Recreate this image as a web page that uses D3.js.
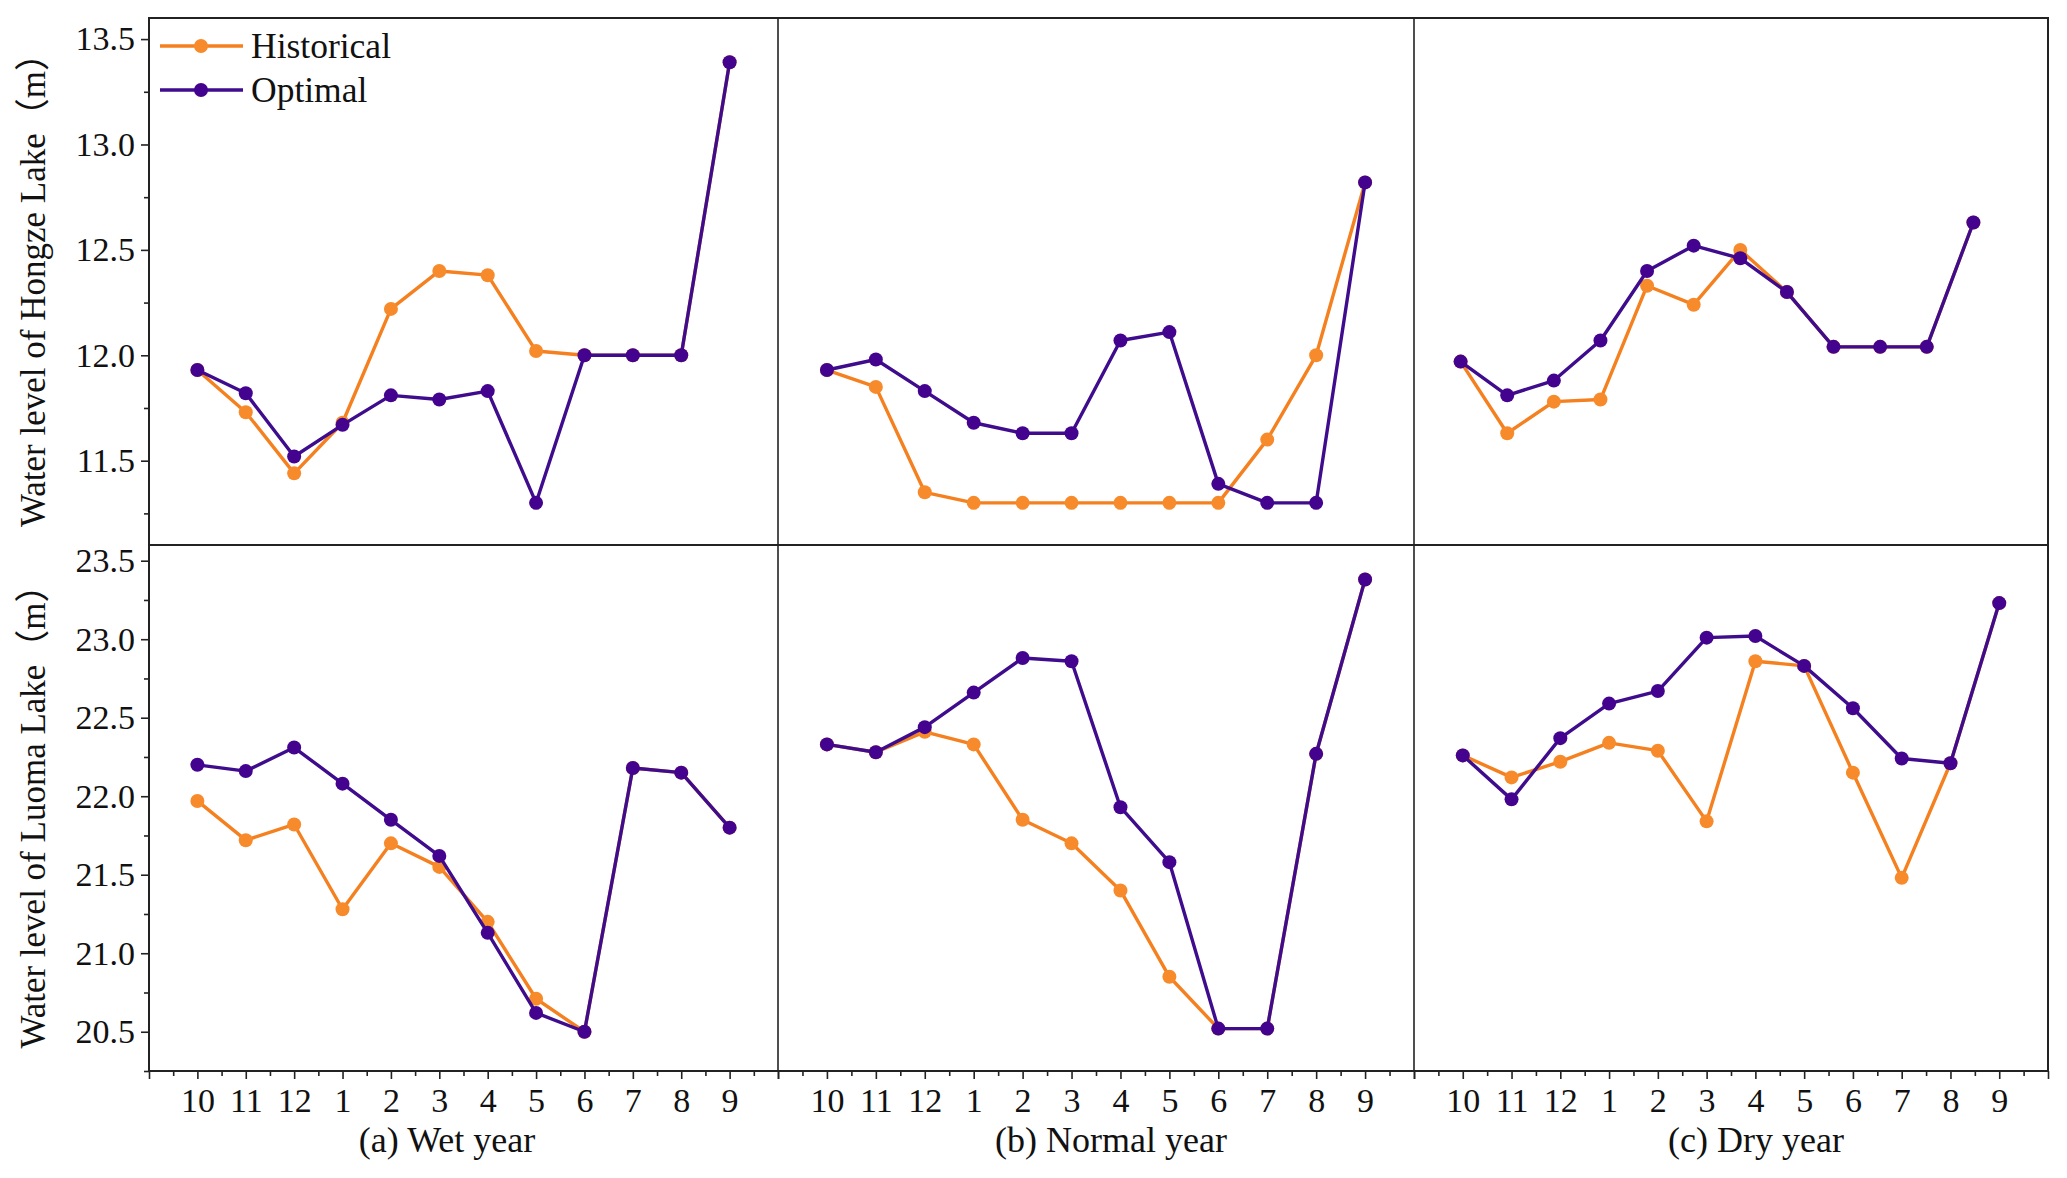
<!DOCTYPE html>
<html>
<head>
<meta charset="utf-8">
<script src="https://cdn.jsdelivr.net/npm/d3@7"></script>
<style>
  html, body { margin: 0; padding: 0; background: #fff; }
  svg { display: block; }
  text { font-family: "Liberation Serif", "Times New Roman", "Noto Sans CJK SC", serif; fill: #111; }
</style>
</head>
<body>
<svg id="chart" width="2067" height="1178"></svg>
<script>
// ---------------- DATA ----------------
const months = ["10", "11", "12", "1", "2", "3", "4", "5", "6", "7", "8", "9"];
const seriesNames = ["Historical", "Optimal"];
const yearTitles = ["(a) Wet year", "(b) Normal year", "(c) Dry year"];
const rowTitles = ["Water level of Hongze Lake\uFF08m\uFF09", "Water level of Luoma Lake\uFF08m\uFF09"];

const hongzeTicks = [11.5, 12.0, 12.5, 13.0, 13.5];
const luomaTicks = [20.5, 21.0, 21.5, 22.0, 22.5, 23.0, 23.5];

// Hongze Lake (top row)
const hongzeWetHistorical    = [11.93, 11.73, 11.44, 11.68, 12.22, 12.40, 12.38, 12.02, 12.00, 12.00, 12.00, 13.39];
const hongzeWetOptimal       = [11.93, 11.82, 11.52, 11.67, 11.81, 11.79, 11.83, 11.30, 12.00, 12.00, 12.00, 13.39];
const hongzeNormalHistorical = [11.93, 11.85, 11.35, 11.30, 11.30, 11.30, 11.30, 11.30, 11.30, 11.60, 12.00, 12.82];
const hongzeNormalOptimal    = [11.93, 11.98, 11.83, 11.68, 11.63, 11.63, 12.07, 12.11, 11.39, 11.30, 11.30, 12.82];
const hongzeDryHistorical    = [11.97, 11.63, 11.78, 11.79, 12.33, 12.24, 12.50, 12.30, 12.04, 12.04, 12.04, 12.63];
const hongzeDryOptimal       = [11.97, 11.81, 11.88, 12.07, 12.40, 12.52, 12.46, 12.30, 12.04, 12.04, 12.04, 12.63];

// Luoma Lake (bottom row)
const luomaWetHistorical    = [21.97, 21.72, 21.82, 21.28, 21.70, 21.55, 21.20, 20.71, 20.50, 22.18, 22.15, 21.80];
const luomaWetOptimal       = [22.20, 22.16, 22.31, 22.08, 21.85, 21.62, 21.13, 20.62, 20.50, 22.18, 22.15, 21.80];
const luomaNormalHistorical = [22.33, 22.28, 22.41, 22.33, 21.85, 21.70, 21.40, 20.85, 20.52, 20.52, 22.27, 23.38];
const luomaNormalOptimal    = [22.33, 22.28, 22.44, 22.66, 22.88, 22.86, 21.93, 21.58, 20.52, 20.52, 22.27, 23.38];
const luomaDryHistorical    = [22.26, 22.12, 22.22, 22.34, 22.29, 21.84, 22.86, 22.83, 22.15, 21.48, 22.21, 23.23];
const luomaDryOptimal       = [22.26, 21.98, 22.37, 22.59, 22.67, 23.01, 23.02, 22.83, 22.56, 22.24, 22.21, 23.23];

// ---------------- LAYOUT ----------------
const svg = d3.select("#chart");
const colX = [149, 778, 1414, 2048];
const rowY = [18, 545, 1071];
const yDomains = [[11.1, 13.6], [20.25, 23.6]];
const yTickSets = [hongzeTicks, luomaTicks];
const titleX = [447, 1111, 1756];
const tickFont = 34;
const titleFont = 36;
const rowTitleFont = 35;
const legendFont = 35.5;
const serif = '"Liberation Serif", "Times New Roman", serif';
const colors = {
  Historical: { line: "#F5801F", fill: "#F78B2C" },
  Optimal:    { line: "#3E0C8D", fill: "#44038F" }
};

const grid = [
  [[hongzeWetHistorical, hongzeWetOptimal], [hongzeNormalHistorical, hongzeNormalOptimal], [hongzeDryHistorical, hongzeDryOptimal]],
  [[luomaWetHistorical, luomaWetOptimal], [luomaNormalHistorical, luomaNormalOptimal], [luomaDryHistorical, luomaDryOptimal]]
];

// the top-right panel of the original has its points plotted on a slightly narrower x span
const dataRightOverride = { "0-2": 2020 };

for (let r = 0; r < 2; r++) {
  const y = d3.scaleLinear().domain(yDomains[r]).range([rowY[r + 1], rowY[r]]);
  for (let c = 0; c < 3; c++) {
    const xAxisScale = d3.scaleLinear().domain([-1, 12]).range([colX[c], colX[c + 1]]);
    const right = dataRightOverride[r + "-" + c] || colX[c + 1];
    const x = d3.scaleLinear().domain([-1, 12]).range([colX[c], right]);
    const g = svg.append("g");
    grid[r][c].forEach((vals, si) => {
      const name = seriesNames[si];
      const line = d3.line().x((d, i) => x(i)).y(d => y(d));
      g.append("path").datum(vals)
        .attr("d", line)
        .attr("fill", "none")
        .attr("stroke", colors[name].line)
        .attr("stroke-width", 3.4)
        .attr("stroke-linejoin", "round");
      g.selectAll(null).data(vals).enter().append("circle")
        .attr("cx", (d, i) => x(i))
        .attr("cy", d => y(d))
        .attr("r", 7)
        .attr("fill", colors[name].fill);
    });

    if (r === 1) {
      const major = d3.range(-1, 13);
      const minor = d3.range(-0.5, 12, 1);
      svg.append("g").attr("transform", `translate(0,${rowY[2]})`)
        .call(d3.axisBottom(xAxisScale).tickValues(minor).tickSize(5).tickFormat(""))
        .call(g2 => { g2.select(".domain").remove(); g2.selectAll("line").attr("stroke", "#222").attr("stroke-width", 1.6); });
      svg.append("g").attr("transform", `translate(0,${rowY[2]})`)
        .call(d3.axisBottom(xAxisScale).tickValues(major).tickSize(8).tickPadding(8.5)
          .tickFormat(d => (d >= 0 && d < 12) ? months[d] : ""))
        .call(g2 => {
          g2.attr("font-family", null);
          g2.select(".domain").remove();
          g2.selectAll("line").attr("stroke", "#222").attr("stroke-width", 1.6);
          g2.selectAll("text").attr("font-size", tickFont).attr("fill", "#111").style("font-family", serif);
        });
      svg.append("text")
        .attr("x", titleX[c]).attr("y", 1152)
        .attr("text-anchor", "middle")
        .attr("font-size", titleFont)
        .text(yearTitles[c]);
    }
  }

  const minorY = d3.range(Math.ceil(yDomains[r][0] * 4) / 4, yDomains[r][1] + 1e-9, 0.25)
    .filter(v => Math.abs(v * 2 - Math.round(v * 2)) > 1e-6);
  svg.append("g").attr("transform", `translate(${colX[0]},0)`)
    .call(d3.axisLeft(y).tickValues(minorY).tickSize(5).tickFormat(""))
    .call(g2 => { g2.select(".domain").remove(); g2.selectAll("line").attr("stroke", "#222").attr("stroke-width", 1.6); });
  svg.append("g").attr("transform", `translate(${colX[0]},0)`)
    .call(d3.axisLeft(y).tickValues(yTickSets[r]).tickSize(8).tickPadding(6).tickFormat(d3.format(".1f")))
    .call(g2 => {
      g2.attr("font-family", null);
      g2.select(".domain").remove();
      g2.selectAll("line").attr("stroke", "#222").attr("stroke-width", 1.6);
      g2.selectAll("text").attr("font-size", tickFont).attr("fill", "#111").style("font-family", serif);
    });

  const cy = (rowY[r] + rowY[r + 1]) / 2;
  svg.append("text")
    .attr("transform", `translate(33,${cy}) rotate(-90)`)
    .attr("text-anchor", "middle")
    .attr("dy", "0.35em")
    .attr("font-size", rowTitleFont)
    .text(rowTitles[r]);
}

// frame & dividers
const frame = svg.append("g").attr("stroke", "#222").attr("fill", "none");
frame.append("rect").attr("x", colX[0]).attr("y", rowY[0])
  .attr("width", colX[3] - colX[0]).attr("height", rowY[2] - rowY[0]).attr("stroke-width", 2);
frame.append("line").attr("x1", colX[0]).attr("x2", colX[3]).attr("y1", rowY[1]).attr("y2", rowY[1]).attr("stroke-width", 2);
[colX[1], colX[2]].forEach(xv => {
  frame.append("line").attr("x1", xv).attr("x2", xv).attr("y1", rowY[0]).attr("y2", rowY[2]).attr("stroke-width", 1.6);
});

// legend
const legend = svg.append("g");
seriesNames.forEach((name, i) => {
  const ly = 46 + i * 44;
  legend.append("line").attr("x1", 160).attr("x2", 243).attr("y1", ly).attr("y2", ly)
    .attr("stroke", colors[name].line).attr("stroke-width", 3.4);
  legend.append("circle").attr("cx", 201).attr("cy", ly).attr("r", 7).attr("fill", colors[name].fill);
  legend.append("text").attr("x", 251).attr("y", ly).attr("dy", "0.35em")
    .attr("font-size", legendFont).text(name);
});
</script>
</body>
</html>
